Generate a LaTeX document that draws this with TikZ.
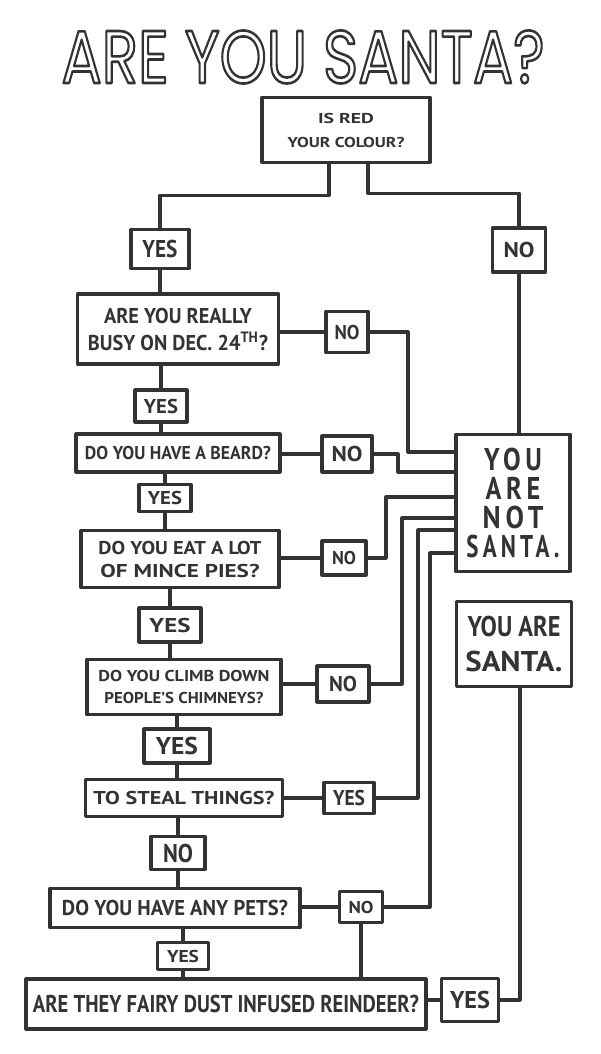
\documentclass[tikz,border=0pt]{standalone}
\usepackage{fontspec}
\setmainfont{PT Sans}
\newfontfamily\titlefont{Poppins}
\newfontfamily\spaced[LetterSpace=18]{PT Sans}
\usepackage{graphicx}
\definecolor{ink}{HTML}{333333}
\newcommand\hl[3]{\resizebox{#1pt}{#2pt}{\raisebox{0pt}[\fontcharht\font`\H][0pt]{#3}}}
\begin{document}
\begin{tikzpicture}[x=1pt,y=-1pt,color=ink,line width=3.1pt,line join=round,
  box/.style={draw=ink,line width=3.1pt,inner sep=0pt,align=center,text=ink},
  link/.style={draw=ink,line width=3.1pt}]
\fill[white] (0,0) rectangle (600,1054);
\useasboundingbox (0,0) rectangle (600,1054);
% title
\node[font=\titlefont] (title) at (303,57) {\hl{483}{52}{\special{pdf:literal direct 1 Tr 0.35 w}ARE YOU SANTA?\special{pdf:literal direct 0 Tr}}};
% boxes
\node[box,minimum width=168pt,minimum height=65pt,font=\fontsize{10}{24}\selectfont\bfseries] (q0) at (346,130) {\hl{56}{10}{IS RED}\\\hl{117}{10}{YOUR COLOUR?}};
\node[box,minimum width=58pt,minimum height=39pt,font=\bfseries] (y0) at (160,249) {\hl{35}{17}{YES}};
\node[box,minimum width=53pt,minimum height=44pt,font=\bfseries] (n0) at (519,250) {\hl{31}{15}{NO}};
\node[box,minimum width=201pt,minimum height=70pt,font=\fontsize{10}{27}\selectfont\bfseries] (q1) at (178,329) {\hl{148}{15}{ARE YOU REALLY}\\\hl{180}{15}{BUSY ON DEC. 24\textsuperscript{TH}?}};
\node[box,minimum width=42pt,minimum height=41pt,font=\bfseries] (n1) at (347,332) {\hl{25}{14}{NO}};
\node[box,minimum width=52pt,minimum height=32pt,font=\bfseries] (y1) at (161,406) {\hl{34}{14}{YES}};
\node[box,minimum width=204pt,minimum height=38pt,font=\bfseries] (q2) at (178,453) {\hl{186}{13}{DO YOU HAVE A BEARD?}};
\node[box,minimum width=50pt,minimum height=36pt,font=\bfseries] (n2) at (347,454) {\hl{31}{15}{NO}};
\node[box,minimum width=52pt,minimum height=27pt,font=\bfseries] (y2) at (165,498) {\hl{34}{13}{YES}};
\node[box,minimum width=198pt,minimum height=57pt,font=\fontsize{10}{23}\selectfont\bfseries] (q3) at (180,559) {\hl{163}{13}{DO YOU EAT A LOT}\\\hl{159}{13}{OF MINCE PIES?}};
\node[box,minimum width=44pt,minimum height=34pt,font=\bfseries] (n3) at (344,558) {\hl{24}{13}{NO}};
\node[box,minimum width=62pt,minimum height=34pt,font=\bfseries] (y3) at (170,625) {\hl{41}{14}{YES}};
\node[box,minimum width=194pt,minimum height=55pt,font=\fontsize{10}{22}\selectfont\bfseries] (q4) at (184,687) {\hl{171}{11}{DO YOU CLIMB DOWN}\\\hl{159}{11}{PEOPLE'S CHIMNEYS?}};
\node[box,minimum width=52pt,minimum height=36pt,font=\bfseries] (n4) at (343,684) {\hl{28}{15}{NO}};
\node[box,minimum width=66pt,minimum height=34pt,font=\bfseries] (y4) at (177,746) {\hl{42}{17}{YES}};
\node[box,minimum width=197pt,minimum height=37pt,font=\bfseries] (q5) at (184,798) {\hl{181}{13}{TO STEAL THINGS?}};
\node[box,minimum width=50pt,minimum height=31pt,font=\bfseries] (y5) at (349,798) {\hl{32}{15}{YES}};
\node[box,minimum width=54pt,minimum height=33pt,font=\bfseries] (n5) at (178,853) {\hl{30}{18}{NO}};
\node[box,minimum width=250pt,minimum height=39pt,font=\bfseries] (q6) at (175,908) {\hl{226}{15}{DO YOU HAVE ANY PETS?}};
\node[box,minimum width=43pt,minimum height=31pt,font=\bfseries] (n6) at (361,907) {\hl{25}{12}{NO}};
\node[box,minimum width=51pt,minimum height=27pt,font=\bfseries] (y6) at (183,956) {\hl{32}{12}{YES}};
\node[box,minimum width=400pt,minimum height=50pt,font=\bfseries] (q7) at (226,1004) {\hl{386}{17}{ARE THEY FAIRY DUST INFUSED REINDEER?}};
\node[box,minimum width=57pt,minimum height=43pt,font=\bfseries] (y7) at (470,1000) {\hl{40}{17}{YES}};
\node[box,minimum width=114pt,minimum height=137pt,font=\fontsize{10}{29}\selectfont\spaced\bfseries] (ns) at (513,503) {\hl{58}{22}{YOU}\\\hl{55}{22}{ARE}\\\hl{61}{22}{NOT}\\\hl{93}{22}{SANTA.}};
\node[box,minimum width=115pt,minimum height=85pt,font=\fontsize{10}{35}\selectfont\bfseries] (sa) at (514,644) {\hl{93}{20}{YOU ARE}\\\hl{97}{20}{SANTA.}};
% connectors
\draw[link] ([xshift=-17pt]q0.south) -- ++(0,31) -| (y0.north);
\draw[link] ([xshift=22pt]q0.south) -- ++(0,29) -| (n0.north);
\draw[link] (n0.south) -- (n0.south |- ns.north);
\draw[link] (y0.south) -- (y0.south |- q1.north);
\draw[link] (q1.south -| y1) -- (y1.north);
\draw[link] (y1.south) -- (y1.south |- q2.north);
\draw[link] (q2.south -| y2) -- (y2.north);
\draw[link] (y2.south) -- (y2.south |- q3.north);
\draw[link] (q3.south -| y3) -- (y3.north);
\draw[link] (y3.south) -- (y3.south |- q4.north);
\draw[link] (q4.south -| y4) -- (y4.north);
\draw[link] (y4.south) -- (y4.south |- q5.north);
\draw[link] (q5.south -| n5) -- (n5.north);
\draw[link] (n5.south) -- (n5.south |- q6.north);
\draw[link] (q6.south -| y6) -- (y6.north);
\draw[link] (y6.south) -- (y6.south |- q7.north);
\draw[link] (q1.east |- n1) -- (n1.west);
\draw[link] (q2.east |- n2) -- (n2.west);
\draw[link] (q3.east |- n3) -- (n3.west);
\draw[link] (q4.east |- n4) -- (n4.west);
\draw[link] (q5.east |- y5) -- (y5.west);
\draw[link] (q6.east |- n6) -- (n6.west);
\draw[link] (q7.east |- y7) -- (y7.west);
\draw[link] (n1.east) -| (408,452) -- (ns.west |- 0,452);
\draw[link] (n2.east) -| (398,472) -- (ns.west |- 0,472);
\draw[link] (n3.east) -| (386,497) -- (ns.west |- 0,497);
\draw[link] (n4.east) -| (402,518) -- (ns.west |- 0,518);
\draw[link] (y5.east) -| (418,530) -- (ns.west |- 0,530);
\draw[link] (n6.east) -| (430,553) -- (ns.west |- 0,553);
\draw[link] (n6.south) -- (n6.south |- q7.north);
\draw[link] (y7.east) -| ([xshift=6pt]sa.south);
\end{tikzpicture}
\end{document}
